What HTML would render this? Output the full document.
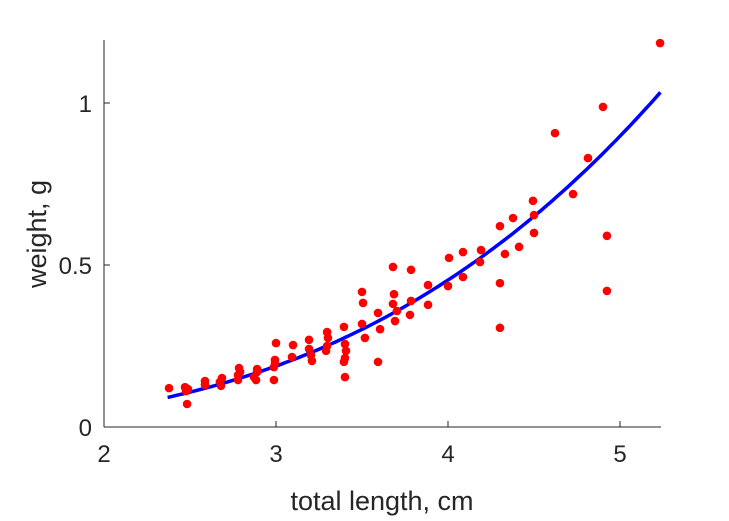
<!DOCTYPE html>
<html><head><meta charset="utf-8"><style>
html,body{margin:0;padding:0;background:#fff;}
svg{display:block;font-family:"Liberation Sans",Arial,sans-serif;}
</style></head><body>
<svg id="chart" width="729" height="521" viewBox="0 0 729 521">
<g id="axes"></g>
<g id="fit"></g>
<g id="pts"></g>
<text x="382" y="510" text-anchor="middle" font-size="27" fill="#262626">total length, cm</text>
<text transform="translate(46,234) rotate(-90)" text-anchor="middle" font-size="27" fill="#262626">weight, g</text>
</svg>
<script>
const xVals=[2.378,2.471,2.477,2.483,2.488,2.587,2.587,2.674,2.686,2.680,2.779,2.785,2.791,2.779,2.884,2.890,2.890,2.872,3.0,2.994,2.994,2.988,2.988,3.099,3.093,3.192,3.192,3.203,3.209,3.297,3.302,3.297,3.291,3.395,3.401,3.407,3.401,3.395,3.401,3.5,3.506,3.5,3.517,3.593,3.605,3.593,3.680,3.680,3.692,3.703,3.686,3.785,3.785,3.779,3.884,3.884,4.006,4.0,4.087,4.087,4.192,4.186,4.302,4.302,4.302,4.331,4.378,4.413,4.494,4.5,4.5,4.622,4.727,4.814,4.901,4.924,4.924,5.233];
const yVals=[.120,.123,.111,.071,.117,.130,.142,.139,.151,.127,.160,.182,.170,.145,.145,.179,.170,.154,.259,.207,.198,.185,.145,.253,.216,.241,.269,.222,.204,.293,.275,.250,.235,.309,.256,.235,.213,.201,.154,.417,.383,.318,.275,.352,.302,.201,.494,.380,.327,.358,.410,.485,.389,.346,.438,.377,.522,.435,.540,.463,.546,.509,.620,.444,.306,.534,.645,.556,.698,.654,.599,.907,.719,.830,.988,.590,.420,1.185];
const fitA=[0.00652];
const fitB=[3.06];
const xTicks=[2,3,4,5];
const yTicks=[0,0.5,1];
const yTickLabels=["0","0.5","1"];
const NS="http://www.w3.org/2000/svg";
const X=v=>104+(v-2)*172, Y=v=>427-v*324;
function mk(t,a,p){const e=document.createElementNS(NS,t);for(const k in a)e.setAttribute(k,a[k]);p.appendChild(e);return e;}
const ax=document.getElementById('axes');
let l=mk('line',{x1:104,y1:40,x2:104,y2:427,stroke:'#262626','stroke-width':1},ax);


l=mk('line',{x1:104,y1:427,x2:661,y2:427,stroke:'#262626','stroke-width':1},ax);


xTicks.forEach(v=>{
 const t=mk('line',{x1:X(v),y1:427,x2:X(v),y2:421,stroke:'#262626'},ax);
 
 
 const s=mk('text',{x:X(v),y:462,'text-anchor':'middle','font-size':24,fill:'#262626'},ax);
 s.textContent=String(v);
 
 
});
yTicks.forEach((v,i)=>{
 const t=mk('line',{x1:104,y1:Y(v),x2:110,y2:Y(v),stroke:'#262626'},ax);
 
 
 const s=mk('text',{x:92,y:Y(v)+9,'text-anchor':'end','font-size':24,fill:'#262626'},ax);
 s.textContent=yTickLabels[i];
 
 
});
const pg=document.getElementById('pts');
xVals.forEach((x,i)=>{
 const c=mk('circle',{cx:X(x),cy:Y(yVals[i]),r:4.3,fill:'#ff0000'},pg);
 
 
});
let d='';
for(let k=0;k<=100;k++){const x=2.37+(5.235-2.37)*k/100;const y=fitA[0]*Math.pow(x,fitB[0]);d+=(k?'L':'M')+X(x).toFixed(1)+','+Y(y).toFixed(1);}
const p=mk('path',{d:d,fill:'none',stroke:'#0000ff','stroke-width':3.5},document.getElementById('fit'));


</script>
</body></html>
